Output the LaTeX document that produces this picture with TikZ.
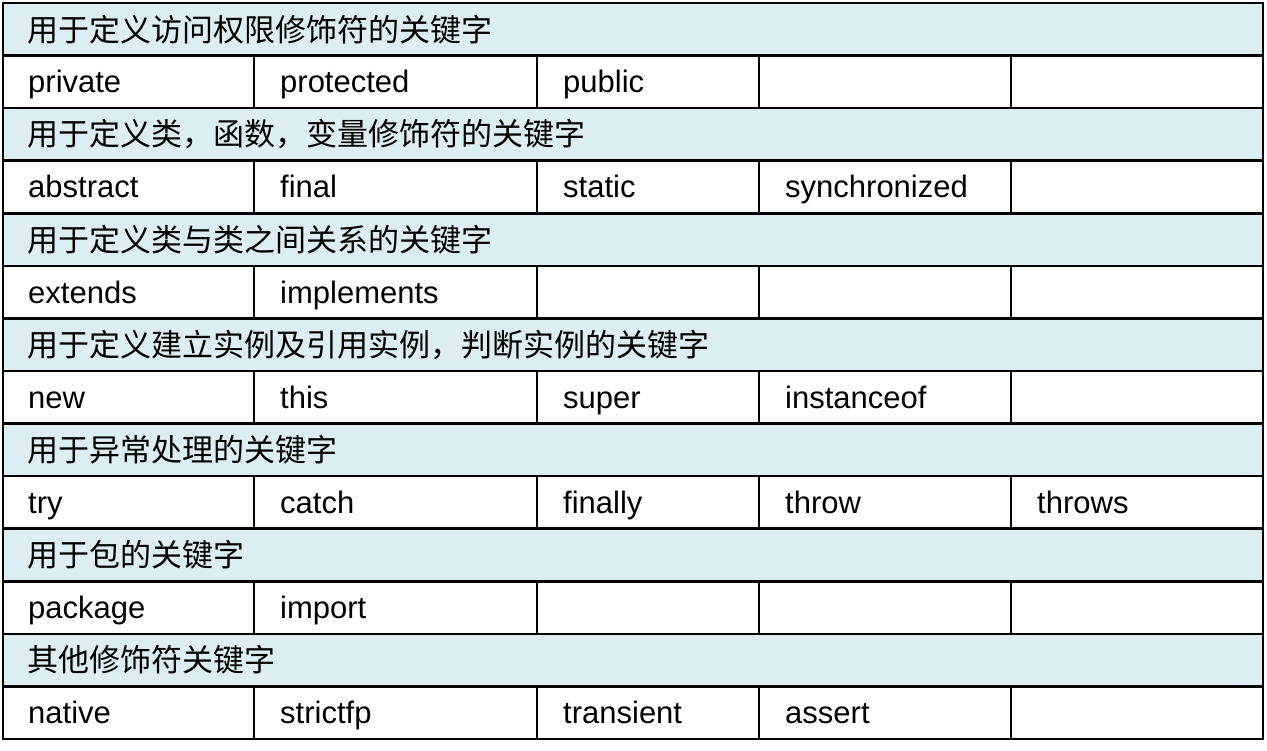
\documentclass[tikz,border=0pt]{standalone}
\usepackage{fontspec}
\setmainfont{Liberation Sans}
\newfontfamily\cjk{Noto Sans CJK SC}
\definecolor{hdr}{HTML}{DCEEF2}
\begin{document}
\begin{tikzpicture}[x=1pt,y=-1pt,
  cell/.style={anchor=base west,inner sep=0pt,font=\fontsize{31}{34}\selectfont},
  hcell/.style={anchor=west,inner sep=0pt,font=\cjk\fontsize{31}{34}\selectfont}]
\useasboundingbox (0,0) rectangle (1267,751);
\def\rh{52.57}
\foreach \i in {0,...,6}{
  \fill[hdr] (3,{3+2*\i*\rh}) rectangle (1263,{3+(2*\i+1)*\rh});
}
\foreach \i/\t in {0/用于定义访问权限修饰符的关键字,1/用于定义类，函数，变量修饰符的关键字,2/用于定义类与类之间关系的关键字,3/用于定义建立实例及引用实例，判断实例的关键字,4/用于异常处理的关键字,5/用于包的关键字,6/其他修饰符关键字}
  \node[hcell] (h\i) at (27,{3+(2*\i+0.5)*\rh}) {\t};
\foreach \i/\a/\b/\c/\d/\e in {0/private/protected/public//,1/abstract/final/static/synchronized/,2/extends/implements///,3/new/this/super/instanceof/,4/try/catch/finally/throw/throws,5/package/import///,6/native/strictfp/transient/assert/}{
  \node[cell] (a\i) at (28,{3+(2*\i+1.5)*\rh+11}) {\a};
  \node[cell] (b\i) at (280,{3+(2*\i+1.5)*\rh+11}) {\b};
  \node[cell] (c\i) at (563,{3+(2*\i+1.5)*\rh+11}) {\c};
  \node[cell] (d\i) at (785,{3+(2*\i+1.5)*\rh+11}) {\d};
  \node[cell] (e\i) at (1037,{3+(2*\i+1.5)*\rh+11}) {\e};
  \foreach \x in {254,537,759,1011}
    \draw[line width=2.5pt] (\x,{3+(2*\i+1)*\rh}) -- (\x,{3+(2*\i+2)*\rh});
}
\foreach \j in {1,...,13}
  \draw[line width=2.5pt] (3,{3+\j*\rh}) -- (1263,{3+\j*\rh});
\draw[line width=2.5pt] (3,3) rectangle (1263,{3+14*\rh});
\end{tikzpicture}
\end{document}
